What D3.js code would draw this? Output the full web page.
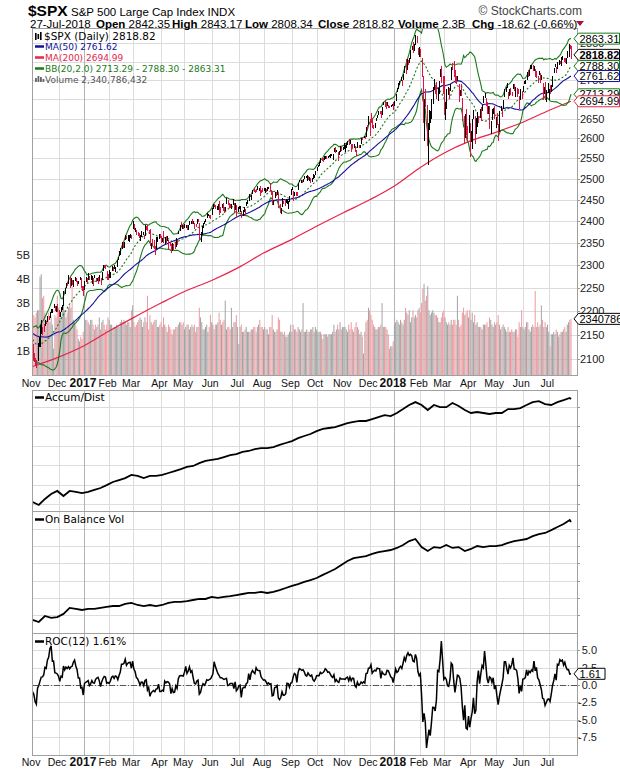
<!DOCTYPE html>
<html>
<head>
<meta charset="utf-8">
<script src="https://cdn.jsdelivr.net/npm/d3@7"></script>
<style>
  body { margin: 0; background: #fff; }
  svg { display: block; }
</style>
</head>
<body>
<div id="chart"></div>
<script>
// ---- data: $SPX daily, 1-Nov-2016 .. 27-Jul-2018 ----
const monthLabels = ["Nov","Dec","2017","Feb","Mar","Apr","May","Jun","Jul","Aug","Sep","Oct","Nov","Dec","2018","Feb","Mar","Apr","May","Jun","Jul"];
const monthDays   = [21,21,20,19,23,19,22,22,20,23,20,22,21,20,21,19,21,21,22,21,19];

// closes before the visible range (only used to seed MA / BB / ROC)
const warmupCloses = [2187.02,2183.87,2182.64,2186.90,2175.44,2172.47,2169.04,2180.38,2176.12,2170.95,
  2170.86,2179.98,2186.48,2186.16,2181.30,2127.81,2159.04,2127.02,2125.77,2147.26,2139.16,2139.12,2139.76,2163.12,2177.18,2164.69,2146.10,2159.93,2171.37,2151.13,2168.27,
  2161.20,2150.49,2159.73,2160.77,2153.74,2163.66,2136.73,2139.18,2132.55,2132.98,2126.50,2139.60,2144.29,2141.34,2141.16,2151.33,2143.16,2139.43,2133.04,2126.41,2126.15];

const closes = [
  2111.72,2097.94,2088.66,2085.18,2131.52,2139.56,2163.26,2167.48,2164.45,2164.20,2180.39,2176.94,2187.12,2181.90,2198.18,2202.94,2204.72,2213.35,2201.72,2204.66,2198.81,
  2191.08,2191.95,2204.71,2212.23,2241.35,2246.19,2259.53,2256.96,2271.72,2253.28,2262.03,2258.07,2262.53,2270.76,2265.18,2260.96,2263.79,2268.88,2249.92,2249.26,2238.83,
  2257.83,2270.75,2269.00,2276.98,2268.90,2268.90,2275.32,2270.44,2274.64,2267.89,2271.89,2263.69,2271.31,2265.20,2280.07,2298.37,2296.68,2294.69,2280.90,2278.87,
  2279.55,2280.85,2297.42,2292.56,2293.08,2294.67,2307.87,2316.10,2328.25,2337.58,2349.25,2347.22,2351.16,2365.38,2362.82,2363.81,2367.34,2369.75,2363.64,
  2395.96,2381.92,2383.12,2375.31,2368.39,2362.98,2364.87,2372.60,2373.47,2365.45,2385.26,2381.38,2378.25,2373.47,2344.02,2348.45,2345.96,2343.98,2341.59,2358.57,2361.13,2368.06,2362.72,
  2358.84,2360.16,2352.95,2357.49,2355.54,2357.16,2353.78,2344.93,2328.95,2349.01,2342.19,2338.17,2355.84,2348.69,2374.15,2388.61,2387.45,2388.77,2384.20,
  2388.33,2391.17,2388.13,2389.52,2399.29,2399.38,2396.92,2399.63,2394.44,2390.90,2402.32,2400.67,2357.03,2365.72,2381.73,2394.02,2398.42,2404.39,2415.07,2415.82,2412.91,2411.80,
  2430.06,2439.07,2436.10,2429.33,2433.14,2433.79,2431.77,2429.39,2440.35,2437.92,2432.46,2433.15,2453.46,2437.03,2435.61,2434.50,2438.30,2439.07,2419.38,2440.69,2419.70,2423.41,
  2429.01,2432.54,2409.75,2425.18,2427.43,2425.53,2443.25,2447.83,2459.27,2459.14,2460.61,2473.83,2473.45,2472.54,2469.91,2477.13,2477.83,2475.42,2472.10,2470.30,
  2476.35,2477.57,2472.16,2476.83,2480.91,2474.92,2474.02,2438.21,2441.32,2465.84,2464.61,2468.11,2430.01,2425.55,2428.37,2452.51,2444.04,2438.97,2443.05,2444.24,2446.30,2457.59,2471.65,
  2476.55,2457.85,2465.54,2465.10,2461.43,2488.11,2496.48,2498.37,2495.62,2500.23,2503.87,2506.65,2508.24,2500.60,2502.22,2496.66,2496.84,2507.04,2510.06,2519.36,
  2529.12,2534.58,2537.74,2552.07,2549.33,2544.73,2550.64,2555.24,2550.93,2553.17,2557.64,2559.36,2561.26,2562.10,2575.21,2564.98,2569.13,2557.15,2560.40,2581.07,2572.83,2575.26,
  2579.36,2579.85,2587.84,2591.13,2590.64,2594.38,2584.62,2582.30,2584.84,2578.87,2564.62,2585.64,2578.85,2582.14,2599.03,2597.08,2602.42,2601.42,2627.04,2626.07,2647.58,
  2642.22,2639.44,2629.57,2629.27,2636.98,2651.50,2659.99,2664.11,2662.85,2652.01,2675.81,2690.16,2681.47,2679.25,2684.57,2683.34,2680.50,2682.62,2687.54,2673.61,
  2695.81,2713.06,2723.99,2743.15,2747.71,2751.29,2748.23,2767.56,2786.24,2776.42,2802.56,2798.03,2810.30,2832.97,2839.13,2837.54,2839.25,2872.87,2853.53,2822.43,2823.81,
  2821.98,2762.13,2648.94,2695.14,2681.66,2581.00,2619.55,2656.00,2662.94,2698.63,2731.20,2732.22,2716.26,2701.33,2703.96,2747.30,2779.60,2744.28,2713.83,
  2677.67,2691.25,2720.94,2728.12,2726.80,2738.97,2786.57,2783.02,2765.31,2749.48,2747.33,2752.01,2712.92,2716.94,2711.93,2643.69,2588.26,2658.55,2612.62,2605.00,2640.87,
  2581.88,2614.45,2644.69,2662.84,2604.47,2613.16,2656.87,2642.19,2663.99,2656.30,2677.84,2706.39,2708.64,2693.13,2670.14,2670.29,2634.56,2639.40,2666.94,2669.91,2648.05,
  2654.80,2635.67,2629.73,2663.42,2672.63,2671.92,2697.79,2723.07,2727.72,2730.13,2711.45,2722.46,2720.13,2712.97,2733.01,2724.44,2733.29,2727.76,2721.33,2689.86,2724.01,2705.27,
  2734.62,2746.87,2748.80,2772.35,2770.37,2779.03,2782.00,2786.85,2775.63,2782.49,2779.66,2773.75,2762.59,2767.32,2749.76,2754.88,2717.07,2723.06,2699.63,2716.31,2718.37,
  2726.71,2713.22,2736.61,2759.82,2784.17,2793.84,2774.02,2798.29,2801.31,2798.43,2809.55,2815.62,2804.49,2801.83,2806.98,2820.40,2846.07,2837.44,2818.82];

const highs = [
  2131,2112,2102,2099,2132,2146,2170,2182,2166,2172,2182,2179,2189,2189,2198,2204,2205,2214,2211,2210,2214,
  2202,2197,2209,2212,2242,2249,2259,2263,2278,2276,2272,2268,2267,2273,2271,2264,2264,2273,2272,2254,2253,
  2264,2273,2271,2283,2275,2279,2275,2271,2278,2272,2272,2274,2277,2272,2284,2300,2301,2299,2286,2280,
  2290,2284,2298,2296,2300,2296,2311,2319,2331,2338,2352,2351,2351,2367,2366,2369,2367,2371,2368,
  2401,2394,2385,2379,2375,2373,2369,2377,2374,2368,2390,2389,2390,2379,2382,2349,2358,2357,2344,2364,2363,2370,2370,
  2366,2361,2378,2364,2365,2366,2356,2353,2348,2349,2348,2352,2361,2357,2377,2392,2398,2392,2392,
  2394,2392,2390,2392,2399,2401,2404,2400,2395,2393,2404,2406,2395,2375,2389,2396,2400,2405,2419,2416,2415,2415,
  2430,2441,2439,2437,2436,2439,2447,2432,2441,2443,2434,2434,2454,2450,2442,2441,2441,2451,2442,2443,2437,2432,
  2436,2435,2424,2426,2432,2429,2445,2449,2463,2462,2461,2474,2477,2473,2475,2482,2479,2484,2474,2477,
  2478,2478,2476,2480,2481,2490,2474,2471,2448,2469,2468,2474,2466,2440,2430,2454,2448,2452,2451,2449,2447,2460,2475,
  2480,2471,2469,2468,2469,2489,2497,2498,2498,2500,2508,2507,2509,2506,2504,2503,2503,2511,2510,2520,
  2529,2535,2541,2552,2550,2551,2555,2555,2556,2557,2558,2560,2562,2562,2576,2578,2572,2567,2568,2582,2580,2578,
  2588,2584,2588,2593,2598,2595,2586,2585,2587,2580,2572,2590,2584,2583,2600,2600,2605,2605,2628,2634,2657,
  2650,2665,2648,2634,2640,2652,2660,2669,2671,2670,2679,2694,2695,2692,2693,2686,2682,2685,2688,2693,
  2696,2714,2729,2744,2748,2760,2751,2767,2788,2807,2807,2805,2810,2833,2842,2853,2848,2873,2870,2837,2839,
  2835,2809,2763,2701,2727,2685,2638,2672,2669,2702,2731,2754,2739,2747,2731,2747,2780,2789,2762,
  2761,2693,2728,2732,2730,2740,2786,2796,2801,2777,2763,2762,2741,2725,2740,2704,2657,2661,2675,2632,2659,
  2638,2619,2649,2673,2656,2653,2666,2656,2674,2680,2686,2710,2717,2703,2694,2683,2683,2645,2676,2677,2683,
  2655,2665,2637,2670,2684,2676,2698,2726,2732,2743,2718,2726,2729,2720,2740,2741,2733,2731,2727,2710,2727,2722,
  2736,2749,2752,2772,2779,2779,2790,2790,2791,2789,2780,2774,2763,2774,2769,2764,2743,2733,2746,2724,2744,
  2727,2738,2737,2763,2784,2795,2785,2799,2804,2803,2814,2816,2810,2811,2809,2829,2848,2845,2843];

const lows = [
  2097,2094,2086,2083,2097,2124,2125,2152,2149,2156,2168,2172,2176,2180,2186,2196,2195,2206,2200,2198,2198,
  2187,2188,2199,2202,2210,2237,2250,2254,2259,2249,2254,2257,2252,2264,2263,2255,2258,2266,2249,2244,2233,
  2245,2262,2260,2266,2268,2266,2258,2254,2271,2263,2264,2259,2265,2257,2267,2288,2294,2292,2268,2267,
  2272,2271,2287,2288,2291,2285,2295,2311,2321,2322,2335,2339,2339,2356,2358,2355,2352,2362,2358,
  2381,2380,2375,2367,2365,2361,2354,2364,2368,2358,2365,2379,2377,2370,2342,2336,2342,2335,2322,2337,2353,2358,2362,
  2350,2351,2350,2348,2349,2354,2334,2344,2328,2331,2334,2335,2341,2345,2370,2376,2386,2382,2382,
  2384,2385,2380,2380,2390,2393,2393,2393,2381,2387,2393,2398,2357,2352,2368,2383,2393,2397,2408,2411,2408,2404,
  2414,2428,2434,2428,2425,2427,2415,2418,2431,2424,2419,2423,2441,2437,2430,2431,2428,2437,2419,2425,2407,2422,
  2428,2422,2407,2413,2422,2413,2436,2441,2447,2457,2450,2463,2468,2466,2468,2474,2471,2459,2465,2469,
  2472,2465,2468,2470,2475,2470,2462,2437,2437,2455,2460,2462,2430,2420,2417,2433,2441,2436,2442,2440,2428,2444,2461,
  2474,2447,2460,2460,2459,2474,2492,2491,2491,2493,2499,2503,2496,2497,2496,2489,2493,2499,2502,2510,
  2520,2528,2531,2540,2544,2542,2545,2548,2548,2552,2553,2552,2557,2547,2566,2564,2566,2544,2559,2566,2568,2572,
  2574,2567,2577,2584,2584,2585,2566,2576,2575,2566,2557,2575,2577,2576,2587,2595,2600,2598,2603,2620,2633,
  2605,2639,2627,2624,2627,2643,2652,2659,2661,2651,2659,2686,2680,2675,2682,2678,2677,2679,2682,2673,
  2683,2697,2719,2728,2737,2748,2736,2752,2769,2768,2778,2792,2798,2808,2831,2824,2830,2846,2851,2818,2813,
  2812,2759,2638,2593,2681,2580,2533,2622,2639,2648,2689,2725,2713,2700,2697,2714,2758,2744,2713,
  2659,2647,2675,2711,2701,2721,2751,2779,2758,2744,2741,2749,2694,2710,2709,2644,2586,2601,2609,2593,2614,
  2553,2591,2574,2649,2587,2610,2628,2640,2653,2645,2670,2690,2703,2682,2662,2661,2624,2612,2647,2661,2648,
  2625,2633,2594,2615,2669,2655,2674,2705,2718,2729,2701,2708,2711,2709,2726,2722,2706,2707,2714,2676,2699,2700,
  2719,2741,2740,2750,2760,2763,2780,2780,2775,2776,2760,2757,2743,2765,2744,2752,2699,2714,2699,2692,2716,
  2698,2713,2719,2733,2770,2787,2770,2781,2792,2793,2789,2805,2799,2796,2795,2811,2812,2835,2808];

// volume, billions of shares
const volumes = [
  2.6,2.5,2.4,2.6,2.7,2.7,4.1,4.2,3.2,3.3,2.6,2.3,2.4,2.6,2.2,2.4,2.1,1.1,2.5,2.4,3.3,
  2.8,2.4,2.4,2.7,2.9,2.7,2.4,2.6,2.8,2.9,2.8,3.7,2.3,2.2,2.1,1.9,1.5,1.4,1.6,1.5,1.8,
  2.4,2.3,2.3,2.2,2.1,2.3,2.3,2.1,1.9,2.1,2.0,2.1,2.4,1.9,2.2,2.3,2.1,1.9,2.1,2.4,
  2.3,2.1,2.1,1.9,2.0,2.0,2.1,2.0,2.0,2.2,2.3,2.2,2.3,2.2,2.1,2.2,2.2,2.0,2.7,
  2.9,2.2,2.0,2.1,2.2,2.3,2.4,2.3,2.0,2.2,2.4,2.2,3.3,1.9,2.5,2.2,2.1,2.2,2.3,2.3,2.0,2.0,2.1,
  2.2,2.0,2.4,2.1,2.0,1.8,2.1,2.0,1.9,1.7,1.9,1.9,2.0,2.0,2.1,2.2,2.2,2.1,2.2,
  1.9,2.0,2.1,2.1,1.9,2.0,2.1,2.0,2.1,1.8,2.0,2.0,2.8,2.4,2.2,1.9,1.9,2.0,2.1,1.8,2.0,2.5,
  2.2,2.1,1.9,2.1,2.1,2.2,2.6,2.3,2.1,2.2,2.3,3.1,1.9,2.0,2.0,1.9,2.8,2.0,2.2,2.2,2.5,2.0,
  1.3,2.0,2.1,1.8,1.8,1.9,2.0,1.8,1.8,1.8,1.9,1.9,2.0,2.0,1.8,2.0,2.1,2.3,2.0,2.0,
  1.9,2.0,1.9,1.9,1.7,2.0,2.0,2.5,1.9,1.8,1.8,1.9,2.4,2.3,1.8,1.8,1.7,1.8,1.6,1.6,1.7,1.8,2.1,
  1.8,2.1,1.9,1.9,1.8,2.0,1.9,1.8,1.9,3.0,1.8,1.8,1.9,1.8,1.8,1.9,1.9,2.0,1.8,2.0,
  1.9,1.8,1.8,1.8,1.7,1.5,1.7,1.7,1.7,1.6,1.7,1.7,1.7,1.8,2.1,1.8,1.9,2.1,1.9,2.2,1.9,2.0,
  2.0,2.0,1.9,1.8,2.1,1.9,2.2,1.9,1.8,2.0,2.2,2.0,1.9,1.7,1.8,1.6,0.9,1.8,2.2,2.3,2.8,
  2.7,2.5,2.3,2.1,2.0,1.9,1.9,2.0,2.0,2.1,3.0,2.0,2.0,2.0,1.9,1.7,1.1,1.2,1.2,1.4,
  2.1,2.2,2.3,2.2,2.1,2.3,2.2,2.1,2.3,2.8,2.6,2.5,2.7,2.2,2.4,2.7,2.4,2.5,2.4,2.7,2.8,
  2.6,3.0,3.6,3.8,3.1,3.3,3.7,2.7,2.5,2.6,2.7,2.6,2.5,2.5,2.4,2.2,2.2,2.4,2.6,
  2.7,2.4,2.2,2.1,2.2,2.1,2.3,2.1,2.3,2.3,2.1,3.3,2.3,2.0,2.1,2.6,2.8,2.5,2.6,2.7,2.4,
  2.7,2.3,2.6,2.2,2.5,2.1,2.2,2.0,2.0,2.0,1.9,2.1,2.1,2.1,2.2,2.0,2.4,2.3,2.1,2.0,2.2,
  2.1,2.2,2.5,2.1,1.9,2.0,2.1,2.0,1.9,1.8,2.0,1.8,1.8,1.9,1.8,1.8,1.9,1.9,1.6,2.2,2.0,2.7,
  2.0,1.9,2.0,2.2,2.2,1.9,1.8,2.0,2.1,2.0,3.5,2.0,2.2,2.0,2.1,2.9,2.3,2.0,2.2,2.0,2.1,
  1.8,1.2,1.7,1.7,1.8,1.7,1.9,1.8,1.6,1.7,1.8,1.8,1.9,2.0,1.8,2.1,2.2,2.3,2.34];

// MA(200), read at month starts (session index, value)
const ma200Idx = [0,21,42,62,81,104,123,145,167,187,210,230,252,273,293,314,333,354,375,397,418,436];
const ma200Val = [2085,2104,2128,2158,2185,2217,2242,2266,2295,2327,2358,2388,2420,2450,2483,2528,2563,2593,2615,2641,2671,2695];

// Accum/Dist and On Balance Volume, read every 5 sessions (plus the last one), billions
const adLine = [1.0,-0.5,2.6,5.1,6.7,4.1,6.7,6.2,5.6,6.2,7.2,8.2,9.7,11.3,12.3,13.3,14.9,14.4,13.3,14.4,
  14.4,14.9,15.9,16.9,17.9,19.0,19.5,21.0,22.1,22.6,23.1,24.1,25.1,25.6,26.7,27.2,28.2,28.7,28.7,29.2,
  30.3,31.3,32.3,33.8,34.9,35.9,37.4,38.5,39.0,39.5,40.5,41.5,42.1,42.6,42.6,43.6,44.6,45.6,45.1,46.7,
  48.7,50.8,52.3,50.8,48.2,50.8,49.7,49.7,51.8,50.3,48.2,46.7,47.2,46.7,46.2,46.7,46.7,48.7,48.7,49.2,
  50.8,52.3,52.8,51.3,50.8,52.3,53.3,54.4,53.8];
const obvLine = [-2.9,-4.1,-0.6,-1.7,-1.2,0.6,4.1,3.5,2.9,3.5,3.5,4.1,4.7,5.2,5.2,6.4,7.0,5.8,5.2,5.8,
  5.2,5.8,7.0,7.6,7.6,8.1,8.7,9.3,9.3,10.5,9.9,10.5,11.0,11.6,12.2,12.8,12.8,13.4,12.8,13.4,
  14.5,15.7,16.9,18.0,19.2,20.3,21.5,23.3,25.0,26.7,29.1,31.4,33.1,33.7,34.3,35.5,36.6,37.2,37.8,39.0,
  40.7,43.0,44.2,39.5,37.2,39.5,39.0,40.7,39.0,39.5,37.2,38.4,40.1,39.5,40.1,40.1,40.7,41.9,43.0,43.6,
  44.2,45.9,47.1,47.7,49.4,51.2,52.9,55.2,54.1];

const priceTicks = [2100,2150,2200,2250,2300,2350,2400,2450,2500,2550,2600,2650,2700,2750,2800,2850];
// labels that stay visible beside the value tags
const priceLabels = [2100,2150,2200,2250,2300,2350,2400,2450,2500,2550,2600,2650,2750,2850];
const volTicks = [1,2,3,4,5];
const rocTicks = [-7.5,-5,-2.5,0,2.5,5];

// ---- layout ----
const W = 620, H = 770, L = 32, R = 577;
const P = {
  price: {t: 28, b: 375},
  ad:    {t: 390, b: 511},
  obv:   {t: 511, b: 633},
  roc:   {t: 633, b: 755}
};
const FONT = "'Liberation Sans', Arial, sans-serif";
const VFONT = "'DejaVu Sans', Verdana, sans-serif";
const RED = "#e2123f", BLUE = "#10109a", GREEN = "#1a7a1a", MARED = "#e8244a";

const svg = d3.select("#chart").append("svg")
  .attr("width", W).attr("height", H)
  .style("font-family", FONT);

// ---- derived series ----
const N = closes.length;
const all = warmupCloses.concat(closes);
const W0 = warmupCloses.length;
function sma(i, n) {
  let s = 0;
  for (let k = 0; k < n; k++) s += all[W0 + i - k];
  return s / n;
}
const ma50 = closes.map((c, i) => sma(i, 50));
const bbMid = closes.map((c, i) => sma(i, 20));
const bbDev = closes.map((c, i) => {
  let s = 0;
  for (let k = 0; k < 20; k++) { const d = all[W0 + i - k] - bbMid[i]; s += d * d; }
  return Math.sqrt(s / 20);
});
const roc = closes.map((c, i) => (c / all[W0 + i - 12] - 1) * 100);
const prevClose = closes.map((c, i) => all[W0 + i - 1]);

const monthStart = [];
let acc = 0;
monthDays.forEach(d => { monthStart.push(acc); acc += d; });

const flowIdx = adLine.map((v, i) => Math.min(i * 5, N - 1));

// ---- scales ----
const x = d3.scaleLinear().domain([0, N - 1]).range([32.6, 571]);
const yP = d3.scaleLog().domain([2068, 2893]).range([P.price.b, P.price.t]);
const yV = d3.scaleLinear().domain([0, 14.46]).range([P.price.b, P.price.t]);
const yAD = d3.scaleLinear().domain([-3.6, 58.5]).range([P.ad.b, P.ad.t]);
const yOBV = d3.scaleLinear().domain([-10.5, 60.5]).range([P.obv.b, P.obv.t]);
const yROC = d3.scaleLinear().domain([-10.1, 7.5]).range([P.roc.b, P.roc.t]);

// clip paths
const defs = svg.append("defs");
Object.keys(P).forEach(k => {
  defs.append("clipPath").attr("id", "clip-" + k)
    .append("rect").attr("x", L).attr("y", P[k].t).attr("width", R - L).attr("height", P[k].b - P[k].t);
});

// ---- grids ----
function grid(key, yScale, ticks) {
  const g = svg.append("g").attr("clip-path", "url(#clip-" + key + ")");
  ticks.forEach(t => {
    const yy = Math.round(yScale(t)) + 0.5;
    g.append("line").attr("x1", L).attr("x2", R).attr("y1", yy).attr("y2", yy)
      .attr("stroke", "#dcdcdc").attr("stroke-width", 1);
    svg.append("line").attr("x1", R).attr("x2", R + 3).attr("y1", yy).attr("y2", yy)
      .attr("stroke", "#999");
  });
  monthStart.forEach((m, j) => {
    if (j === 0) return;
    const xx = Math.round(x(m)) + 0.5;
    const isYear = /^\d{4}$/.test(monthLabels[j]);
    g.append("line").attr("x1", xx).attr("x2", xx).attr("y1", P[key].t).attr("y2", P[key].b)
      .attr("stroke", isYear ? "#b4b4b4" : "#dcdcdc").attr("stroke-width", 1);
  });
}
grid("price", yP, priceTicks);
grid("ad", yAD, [0, 10, 20, 30, 40, 50]);
grid("obv", yOBV, [0, 10, 20, 30, 40, 50]);
grid("roc", yROC, rocTicks);

// ---- price panel ----
const gp = svg.append("g").attr("clip-path", "url(#clip-price)");

// volume bars behind the price
gp.selectAll("rect.vol").data(volumes).enter().append("rect")
  .attr("class", "vol")
  .attr("x", (d, i) => x(i) - 0.5)
  .attr("width", 1.0)
  .attr("y", d => yV(d))
  .attr("height", d => yV(0) - yV(d))
  .attr("fill", (d, i) => closes[i] < prevClose[i] ? "#ee9aa0" : "#a4a4a4");

const line = (yS) => d3.line().x((d, i) => x(i)).y(d => yS(d));

gp.append("path").datum(ma200Val)
  .attr("d", d3.line().x((d, i) => x(ma200Idx[i])).y(d => yP(d)).curve(d3.curveMonotoneX))
  .attr("fill", "none").attr("stroke", MARED).attr("stroke-width", 1.2);

gp.append("path").datum(bbMid.map((m, i) => m + 2 * bbDev[i]))
  .attr("d", line(yP)).attr("fill", "none").attr("stroke", GREEN).attr("stroke-width", 1.1);
gp.append("path").datum(bbMid.map((m, i) => m - 2 * bbDev[i]))
  .attr("d", line(yP)).attr("fill", "none").attr("stroke", GREEN).attr("stroke-width", 1.1);
gp.append("path").datum(bbMid)
  .attr("d", line(yP)).attr("fill", "none").attr("stroke", GREEN).attr("stroke-width", 1.1)
  .attr("stroke-dasharray", "2,2");
gp.append("path").datum(ma50)
  .attr("d", line(yP)).attr("fill", "none").attr("stroke", BLUE).attr("stroke-width", 1.1);

// daily bars
gp.selectAll("rect.bar").data(closes).enter().append("rect")
  .attr("class", "bar")
  .attr("x", (d, i) => Math.round(x(i)))
  .attr("width", 1)
  .attr("y", (d, i) => yP(Math.max(highs[i], d)))
  .attr("height", (d, i) => Math.max(1, yP(Math.min(lows[i], d)) - yP(Math.max(highs[i], d))))
  .attr("fill", (d, i) => d < prevClose[i] ? RED : "#000")
  .attr("shape-rendering", "crispEdges");

// ---- indicator panels ----
svg.append("g").attr("clip-path", "url(#clip-ad)").append("path").datum(adLine)
  .attr("d", d3.line().x((d, i) => x(flowIdx[i])).y(d => yAD(d)))
  .attr("fill", "none").attr("stroke", "#000").attr("stroke-width", 1.8);

svg.append("g").attr("clip-path", "url(#clip-obv)").append("path").datum(obvLine)
  .attr("d", d3.line().x((d, i) => x(flowIdx[i])).y(d => yOBV(d)))
  .attr("fill", "none").attr("stroke", "#000").attr("stroke-width", 1.8);

const gr = svg.append("g").attr("clip-path", "url(#clip-roc)");
gr.append("line").attr("x1", L).attr("x2", R)
  .attr("y1", Math.round(yROC(0)) + 0.5).attr("y2", Math.round(yROC(0)) + 0.5)
  .attr("stroke", "#555").attr("stroke-dasharray", "6,2,1,2");
gr.append("path").datum(roc)
  .attr("d", line(yROC)).attr("fill", "none").attr("stroke", "#000").attr("stroke-width", 1.5);

// ---- panel borders ----
Object.keys(P).forEach(k => {
  svg.append("rect").attr("x", L + 0.5).attr("y", P[k].t + 0.5)
    .attr("width", R - L).attr("height", P[k].b - P[k].t)
    .attr("fill", "none").attr("stroke", "#a0a0a0");
});

// ---- axes text ----
priceLabels.forEach(t => {
  svg.append("text").attr("x", 580).attr("y", yP(t) + 4).text(t)
    .style("font-size", "11px").attr("fill", "#222");
});
volTicks.forEach(t => {
  svg.append("text").attr("x", 30).attr("y", yV(t) + 4).attr("text-anchor", "end").text(t + "B")
    .style("font-size", "11px").attr("fill", "#222");
});
rocTicks.forEach(t => {
  svg.append("text").attr("x", 597).attr("y", yROC(t) + 4).attr("text-anchor", "end").text(t.toFixed(1))
    .style("font-size", "11px").attr("fill", "#222");
});

function monthAxis(yBase) {
  monthStart.forEach((m, j) => {
    const isYear = /^\d{4}$/.test(monthLabels[j]);
    svg.append("text").attr("x", x(m) - 1.5).attr("y", yBase).attr("text-anchor", "middle")
      .text(monthLabels[j])
      .style("font-size", isYear ? "12px" : "10.5px")
      .style("font-weight", isYear ? "bold" : "normal")
      .attr("fill", "#111");
  });
}
monthAxis(387);
monthAxis(766);

// ---- value tags on the right ----
function tag(yc, label, color, bold, right) {
  const g = svg.append("g");
  g.append("path")
    .attr("d", `M574,${yc} L578.5,${yc - 5.5} L${right},${yc - 5.5} L${right},${yc + 5.5} L578.5,${yc + 5.5} Z`)
    .attr("fill", "#fff").attr("stroke", color).attr("stroke-width", 1);
  g.append("text").attr("x", 579.5).attr("y", yc + 4).text(label)
    .style("font-size", "11px").style("font-weight", bold ? "bold" : "normal").attr("fill", "#000");
}
const last = N - 1;
const bbUp = bbMid[last] + 2 * bbDev[last], bbLo = bbMid[last] - 2 * bbDev[last];
tag(yP(bbUp), "2863.31", GREEN, false, 619.5);
tag(yP(closes[last]), "2818.82", "#000", true, 619.5);
tag(yP(bbMid[last]), "2788.30", GREEN, false, 619.5);
tag(yP(ma50[last]), "2761.62", BLUE, false, 619.5);
tag(yP(bbLo), "2713.29", GREEN, false, 619.5);
tag(yP(ma200Val[ma200Val.length - 1]), "2694.99", MARED, false, 619.5);
tag(yV(volumes[last]), "2340786", "#000", false, 622);
tag(yROC(roc[last]), "1.61", "#000", false, 605);

// ---- legends ----
function legendRow(yb, color, label, size) {
  svg.append("line").attr("x1", 35).attr("x2", 44).attr("y1", yb - 3.5).attr("y2", yb - 3.5)
    .attr("stroke", color).attr("stroke-width", 2.5);
  svg.append("text").attr("x", 45).attr("y", yb).text(label)
    .style("font-family", VFONT).style("font-size", size).attr("fill", color);
}
// candle icon
[[35, 33, 7], [37.5, 34, 5], [40, 32, 8]].forEach(b => {
  svg.append("rect").attr("x", b[0]).attr("y", b[1]).attr("width", 1.6).attr("height", b[2]).attr("fill", "#000");
});
svg.append("text").attr("x", 44).attr("y", 39.5).text("$SPX (Daily) 2818.82")
  .style("font-family", VFONT).style("font-size", "10.5px").attr("fill", "#000");
legendRow(50, BLUE, "MA(50) 2761.62", "9px");
legendRow(61, MARED, "MA(200) 2694.99", "9px");
legendRow(72, GREEN, "BB(20,2.0) 2713.29 - 2788.30 - 2863.31", "9px");
[[35, 78, 4], [37.5, 76, 6], [40, 77, 5], [42.5, 79, 3]].forEach(b => {
  svg.append("rect").attr("x", b[0]).attr("y", b[1]).attr("width", 1.8).attr("height", b[2]).attr("fill", "#666");
});
svg.append("text").attr("x", 45).attr("y", 82.5).text("Volume 2,340,786,432")
  .style("font-family", VFONT).style("font-size", "9px").attr("fill", "#555");

legendRow(401, "#000", "Accum/Dist", "10.5px");
legendRow(523, "#000", "On Balance Vol", "10.5px");
legendRow(645, "#000", "ROC(12) 1.61%", "10.5px");

// ---- header ----
svg.append("text").attr("x", 28).attr("y", 16).text("$SPX")
  .style("font-weight", "bold").style("font-size", "15.5px").attr("fill", "#000");
svg.append("text").attr("x", 71).attr("y", 15.5).text("S&P 500 Large Cap Index INDX")
  .style("font-size", "11.5px").attr("fill", "#000");
svg.append("text").attr("x", 582).attr("y", 15).attr("text-anchor", "end")
  .text("\u00A9 StockCharts.com").style("font-size", "12px").attr("fill", "#444");

const parts = [
  [30, "", "27-Jul-2018"],
  [96, "Open", "2842.35"],
  [172, "High", "2843.17"],
  [245, "Low", "2808.34"],
  [318, "Close", "2818.82"],
  [398, "Volume", "2.3B"],
  [472, "Chg", "-18.62 (-0.66%)"]
];
parts.forEach(p => {
  const t = svg.append("text").attr("x", p[0]).attr("y", 27.5)
    .style("font-size", "11.5px").attr("fill", "#000");
  if (p[1]) {
    t.append("tspan").text(p[1]).style("font-weight", "bold");
    t.append("tspan").text("\u00A0" + p[2]);
  } else {
    t.text(p[2]);
  }
});
svg.append("path").attr("d", "M576,21 L584,21 L580,26 Z").attr("fill", "#b01030");
</script>
</body>
</html>
